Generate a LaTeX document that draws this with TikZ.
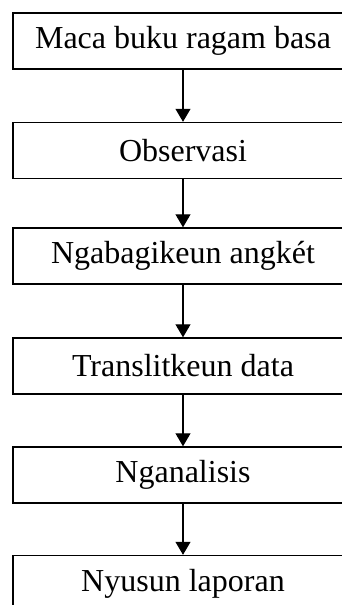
\documentclass[tikz,border=0pt]{standalone}
\usepackage{fontspec}
\setmainfont{Liberation Serif}
\usetikzlibrary{arrows.meta}

\begin{document}
\begin{tikzpicture}[x=1pt, y=1pt,
        langkah/.style={draw, line width=1.4pt, minimum width=340pt, minimum height=56pt,
            inner sep=0pt, font=\fontsize{32}{38}\selectfont},
        panah/.style={-{Triangle[width=15pt, length=13pt]}, line width=1.1pt}]
            % \draw[help lines] (0, 0) grid (342, -605);
            \useasboundingbox (0,0) rectangle (342,-605);
            \node[langkah] (maca) at (183,-41) {Maca buku ragam basa};
            \node[langkah] (observasi) at (183,-150.5) {Observasi};
            \node[langkah] (angket) at (183,-256) {Ngabagikeun angkét};
            \node[langkah] (translit) at (183,-366) {Translitkeun data};
            \node[langkah] (analisis) at (183,-475) {Nganalisis};
            \node[langkah] (laporan) at (183,-583.5) {Nyusun laporan};
            \draw[panah] (maca) -- (observasi);
            \draw[panah] (observasi) -- (angket);
            \draw[panah] (angket) -- (translit);
            \draw[panah] (translit) -- (analisis);
            \draw[panah] (analisis) -- (laporan);
        \end{tikzpicture}
\end{document}
